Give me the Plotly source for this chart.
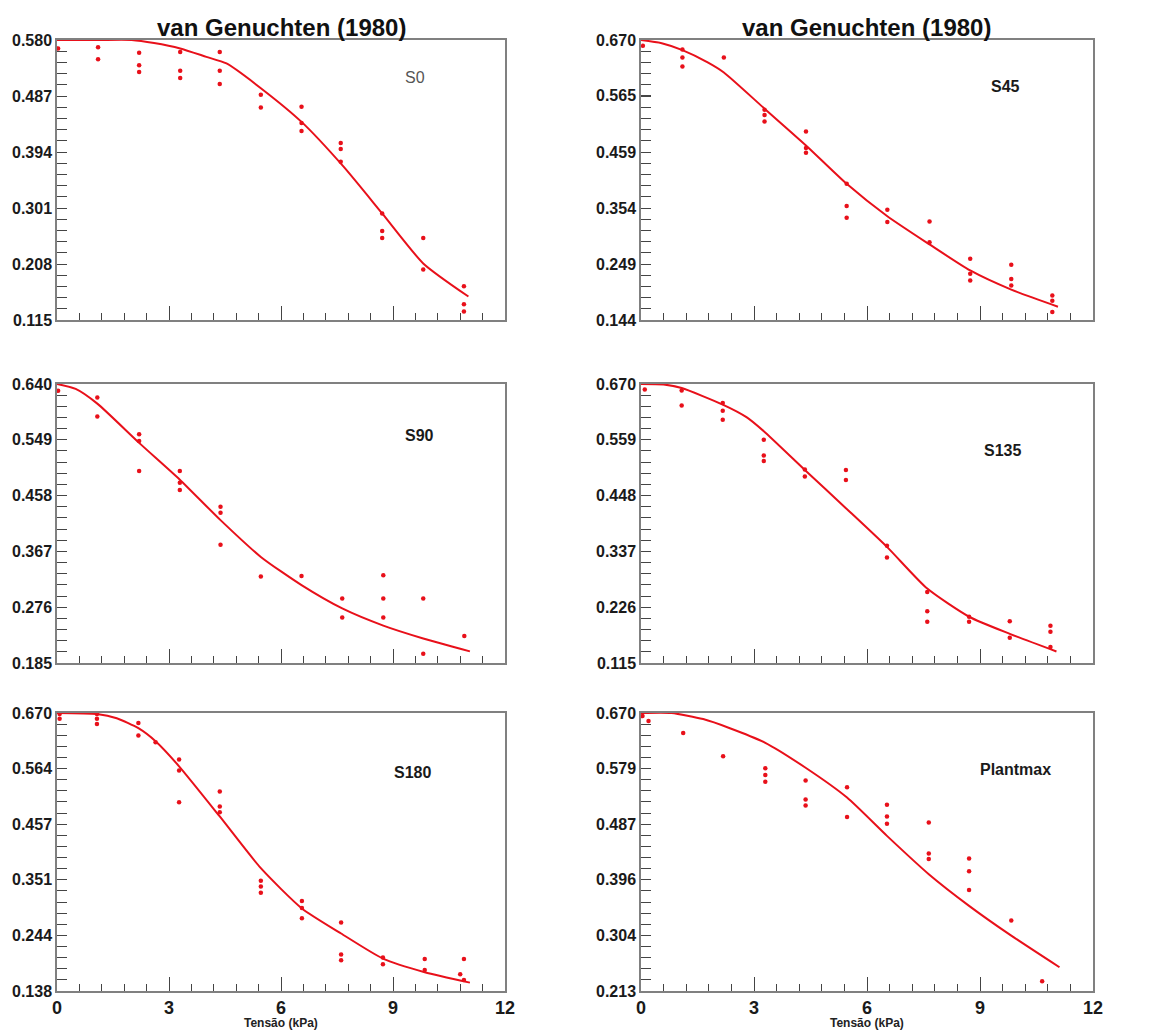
import plotly.graph_objects as go

# ---- data ----
s0_obs_x = [0.03, 1.1, 1.1, 2.2, 2.2, 2.2, 3.3, 3.3, 3.3, 4.36, 4.36, 4.36, 5.46, 5.46,
            6.55, 6.55, 6.55, 7.6, 7.6, 7.6, 8.71, 8.71, 8.71, 9.81, 9.81, 10.9, 10.9, 10.9]
s0_obs_y = [0.566, 0.568, 0.548, 0.559, 0.538, 0.527, 0.560, 0.529, 0.517, 0.560, 0.529, 0.507,
            0.489, 0.468, 0.469, 0.442, 0.429, 0.409, 0.399, 0.378, 0.292, 0.263, 0.251,
            0.251, 0.199, 0.171, 0.141, 0.129]
s0_fit_x = [0, 1.1, 2.0, 2.6, 3.3, 4.0, 4.54, 5.46, 6.55, 7.67, 8.71, 9.81, 11.02]
s0_fit_y = [0.580, 0.580, 0.580, 0.575, 0.566, 0.552, 0.541, 0.500, 0.444, 0.370, 0.292, 0.209, 0.154]
s0_ticks = ["0.580", "0.487", "0.394", "0.301", "0.208", "0.115"]

s45_obs_x = [0.05, 1.1, 1.1, 1.1, 2.2, 3.28, 3.28, 3.28, 4.38, 4.38, 4.38, 5.46, 5.46, 5.46,
             6.54, 6.54, 7.66, 7.66, 8.74, 8.74, 8.74, 9.83, 9.83, 9.83, 10.92, 10.92, 10.92]
s45_obs_y = [0.659, 0.652, 0.637, 0.620, 0.637, 0.539, 0.529, 0.517, 0.498, 0.467, 0.458,
             0.400, 0.358, 0.336, 0.351, 0.328, 0.329, 0.290, 0.259, 0.231, 0.218,
             0.248, 0.221, 0.209, 0.190, 0.180, 0.159]
s45_fit_x = [0, 0.55, 1.1, 1.77, 2.2, 3.28, 4.38, 5.46, 6.54, 7.66, 8.74, 9.83, 11.07]
s45_fit_y = [0.670, 0.664, 0.651, 0.628, 0.609, 0.541, 0.472, 0.400, 0.339, 0.286, 0.237, 0.201, 0.169]
s45_ticks = ["0.670", "0.565", "0.459", "0.354", "0.249", "0.144"]

s90_obs_x = [0.03, 1.08, 1.08, 2.2, 2.2, 2.2, 3.29, 3.29, 3.29, 4.38, 4.38, 4.38, 5.46, 6.55,
             7.64, 7.64, 8.74, 8.74, 8.74, 9.81, 9.81, 10.91]
s90_obs_y = [0.629, 0.618, 0.587, 0.558, 0.547, 0.498, 0.498, 0.479, 0.467, 0.440, 0.430, 0.378,
             0.326, 0.327, 0.290, 0.259, 0.328, 0.290, 0.259, 0.290, 0.200, 0.229]
s90_fit_x = [0, 0.5, 1.08, 2.2, 3.29, 4.38, 5.46, 6.55, 7.64, 8.74, 9.81, 11.06]
s90_fit_y = [0.640, 0.632, 0.608, 0.544, 0.484, 0.418, 0.358, 0.312, 0.274, 0.246, 0.225, 0.204]
s90_ticks = ["0.640", "0.549", "0.458", "0.367", "0.276", "0.185"]

s135_obs_x = [0.1, 1.08, 1.08, 2.17, 2.17, 2.17, 3.26, 3.26, 3.26, 4.35, 4.35, 5.44, 5.44,
              6.53, 6.53, 7.6, 7.6, 7.6, 8.71, 8.71, 9.79, 9.79, 10.87, 10.87, 10.87]
s135_obs_y = [0.659, 0.657, 0.627, 0.632, 0.617, 0.599, 0.559, 0.528, 0.517, 0.500, 0.486,
              0.499, 0.479, 0.348, 0.325, 0.256, 0.218, 0.197, 0.207, 0.197, 0.198, 0.165,
              0.189, 0.177, 0.147]
s135_fit_x = [0, 0.6, 1.08, 2.17, 2.8, 3.26, 4.35, 5.44, 6.53, 7.6, 8.71, 9.79, 11.03]
s135_fit_y = [0.670, 0.669, 0.662, 0.629, 0.604, 0.576, 0.499, 0.423, 0.346, 0.263, 0.207, 0.173, 0.138]
s135_ticks = ["0.670", "0.559", "0.448", "0.337", "0.226", "0.115"]

s180_obs_x = [0.07, 0.07, 1.07, 1.07, 1.07, 2.18, 2.18, 2.64, 3.27, 3.27, 3.27, 4.36, 4.36, 4.36,
              5.46, 5.46, 5.46, 6.56, 6.56, 6.56, 7.61, 7.61, 7.61, 8.73, 8.73, 9.85, 9.85,
              10.8, 10.9, 10.9]
s180_obs_y = [0.668, 0.659, 0.668, 0.659, 0.649, 0.651, 0.627, 0.614, 0.581, 0.560, 0.499,
              0.520, 0.491, 0.480, 0.349, 0.338, 0.326, 0.310, 0.297, 0.277, 0.269, 0.208, 0.197,
              0.202, 0.189, 0.199, 0.178, 0.170, 0.199, 0.159]
s180_fit_x = [0, 1.07, 1.6, 2.18, 2.64, 3.27, 4.36, 5.46, 6.56, 7.61, 8.73, 9.85, 11.06]
s180_fit_y = [0.670, 0.668, 0.660, 0.641, 0.616, 0.568, 0.472, 0.373, 0.296, 0.248, 0.200, 0.174, 0.154]
s180_ticks = ["0.670", "0.564", "0.457", "0.351", "0.244", "0.138"]

pm_obs_x = [0.04, 0.2, 1.12, 2.18, 3.3, 3.3, 3.3, 4.37, 4.37, 4.37, 5.47, 5.47, 6.53, 6.53, 6.53,
            7.64, 7.64, 7.64, 8.71, 8.71, 8.71, 9.83, 10.65]
pm_obs_y = [0.665, 0.657, 0.637, 0.599, 0.579, 0.568, 0.557, 0.559, 0.528, 0.518, 0.548, 0.499,
            0.519, 0.500, 0.488, 0.490, 0.439, 0.430, 0.431, 0.410, 0.379, 0.329, 0.229]
pm_fit_x = [0, 0.81, 1.65, 2.36, 3.3, 4.37, 5.47, 6.53, 7.64, 8.71, 9.83, 11.11]
pm_fit_y = [0.670, 0.670, 0.660, 0.645, 0.621, 0.580, 0.531, 0.468, 0.405, 0.353, 0.304, 0.252]
pm_ticks = ["0.670", "0.579", "0.487", "0.396", "0.304", "0.213"]

x_ticks = ["0", "3", "6", "9", "12"]
title_text = "van Genuchten (1980)"
x_title = "Tensão (kPa)"

panels = [
    ("S0", s0_obs_x, s0_obs_y, s0_fit_x, s0_fit_y, s0_ticks),
    ("S45", s45_obs_x, s45_obs_y, s45_fit_x, s45_fit_y, s45_ticks),
    ("S90", s90_obs_x, s90_obs_y, s90_fit_x, s90_fit_y, s90_ticks),
    ("S135", s135_obs_x, s135_obs_y, s135_fit_x, s135_fit_y, s135_ticks),
    ("S180", s180_obs_x, s180_obs_y, s180_fit_x, s180_fit_y, s180_ticks),
    ("Plantmax", pm_obs_x, pm_obs_y, pm_fit_x, pm_fit_y, pm_ticks),
]

# ---- layout: pixel boxes as seen in the 1154x1031 window ----
# the page body has an 8px margin, so the figure is shrunk by that much
OFF = 8
W, H = 1154 - OFF, 1031 - OFF
col_px = [(57, 505), (641, 1093)]
row_px = [(40, 320), (384, 663), (713, 991)]
label_pos = [(415, 78), (1005, 86), (419, 435), (1002, 450), (412, 772), (1015, 769)]


def px(x):
    return (x - OFF) / W


def py(y):
    return 1 - (y - OFF) / H


FONT = "Liberation Sans, Arial, sans-serif"
RED = "#e8101a"

fig = go.Figure()
layout = dict(
    width=W, height=H, margin=dict(l=0, r=0, t=0, b=0, autoexpand=False),
    paper_bgcolor="white", plot_bgcolor="white", showlegend=False,
    font=dict(family=FONT, color="#1a1a1a"),
)
annotations = []

for i, (name, ox, oy, fx, fy, yt) in enumerate(panels):
    r, c = divmod(i, 2)
    n = "" if i == 0 else str(i + 1)
    xa, ya = "x" + n, "y" + n
    x0, x1 = col_px[c]
    y0, y1 = row_px[r]
    yvals = [float(t) for t in yt]
    ymin, ymax = min(yvals), max(yvals)

    fig.add_trace(go.Scatter(x=fx, y=fy, mode="lines", xaxis=xa, yaxis=ya,
                             line=dict(color=RED, width=2, shape="spline", smoothing=0.6)))
    fig.add_trace(go.Scatter(x=ox, y=oy, mode="markers", xaxis=xa, yaxis=ya,
                             marker=dict(color=RED, size=4.5)))

    layout["xaxis" + n] = dict(
        domain=[px(x0), px(x1)], anchor=ya, range=[0, 12], automargin=False,
        tickmode="array", tickvals=[float(t) for t in x_ticks], ticktext=x_ticks,
        ticks="inside", ticklen=14, tickwidth=1.3, tickcolor="#444",
        minor=dict(tickmode="linear", tick0=0, dtick=0.6, ticks="inside",
                   ticklen=7, tickwidth=1.3, tickcolor="#444"),
        showticklabels=(r == 2), tickfont=dict(size=18, weight="bold"),
        showline=True, mirror=True, linecolor="#808080", linewidth=1.5,
        showgrid=False, zeroline=False,
    )
    layout["yaxis" + n] = dict(
        domain=[py(y1), py(y0)], anchor=xa, range=[ymin, ymax], automargin=False,
        tickmode="array", tickvals=yvals, ticktext=yt,
        ticks="inside", ticklen=10, tickwidth=1.3, tickcolor="#444",
        minor=dict(tickmode="linear", tick0=ymin, dtick=(ymax - ymin) / 25, ticks="inside",
                   ticklen=10, tickwidth=1.3, tickcolor="#444"),
        tickfont=dict(size=16, weight="bold"),
        showline=True, mirror=True, linecolor="#808080", linewidth=1.5,
        showgrid=False, zeroline=False,
    )

    lx, ly = label_pos[i]
    annotations.append(dict(
        text=name, x=px(lx), y=py(ly), xref="paper", yref="paper",
        showarrow=False, xanchor="center", yanchor="middle",
        font=dict(size=16, color="#555" if i == 0 else "#1a1a1a",
                  weight="normal" if i == 0 else "bold"),
    ))

    if r == 0:
        annotations.append(dict(
            text=title_text, x=px((x0 + x1) / 2), y=py(28), xref="paper", yref="paper",
            showarrow=False, xanchor="center", yanchor="middle",
            font=dict(size=24, color="#111", weight="bold"),
        ))
    if r == 2:
        annotations.append(dict(
            text=x_title, x=px((x0 + x1) / 2), y=py(1023), xref="paper", yref="paper",
            showarrow=False, xanchor="center", yanchor="middle",
            font=dict(size=12, color="#222", weight="bold"),
        ))

layout["annotations"] = annotations
fig.update_layout(**layout)
fig.write_html("out.html")
